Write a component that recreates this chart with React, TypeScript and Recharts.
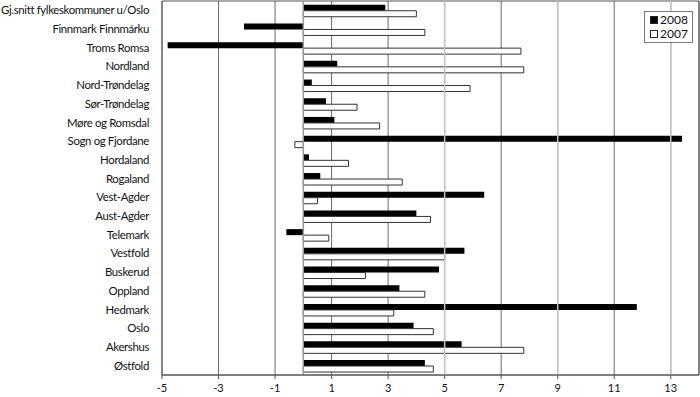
import { BarChart, Bar, XAxis, YAxis, CartesianGrid, ReferenceLine, ReferenceArea } from 'recharts'

const categories = [
  'Gj.snitt fylkeskommuner u/Oslo',
  'Finnmark Finnmárku',
  'Troms Romsa',
  'Nordland',
  'Nord-Trøndelag',
  'Sør-Trøndelag',
  'Møre og Romsdal',
  'Sogn og Fjordane',
  'Hordaland',
  'Rogaland',
  'Vest-Agder',
  'Aust-Agder',
  'Telemark',
  'Vestfold',
  'Buskerud',
  'Oppland',
  'Hedmark',
  'Oslo',
  'Akershus',
  'Østfold',
]

const values2008 = [2.9, -2.1, -4.8, 1.2, 0.3, 0.8, 1.1, 13.4, 0.2, 0.6, 6.4, 4.0, -0.6, 5.7, 4.8, 3.4, 11.8, 3.9, 5.6, 4.3]
const values2007 = [4.0, 4.3, 7.7, 7.8, 5.9, 1.9, 2.7, -0.3, 1.6, 3.5, 0.5, 4.5, 0.9, 5.0, 2.2, 4.3, 3.2, 4.6, 7.8, 4.6]

const xTicks = [-5, -3, -1, 1, 3, 5, 7, 9, 11, 13]
const lightGrid = [5, 9, 13]

const data = categories.map((name, i) => ({ name, y2008: values2008[i], y2007: values2007[i] }))

const font = 'Lato, "Noto Sans", sans-serif'

function CategoryTick(props: any) {
  const { x, y, payload } = props
  return (
    <text
      x={x - 5}
      y={y}
      dy={4}
      textAnchor="end"
      fontSize={11.4}
      letterSpacing={-0.35}
      fill="#111"
      fontFamily={font}
    >
      {payload.value}
    </text>
  )
}

function ValueTick(props: any) {
  const { x, y, payload } = props
  return (
    <text x={x} y={y} dy={11} textAnchor="middle" fontSize={11} fill="#111" fontFamily={font}>
      {payload.value}
    </text>
  )
}

function LegendBox() {
  const item = (fill: string, label: string) => (
    <div style={{ display: 'flex', alignItems: 'center', height: 14 }}>
      <span
        style={{
          display: 'inline-block',
          width: 6,
          height: 6,
          background: fill,
          border: '1px solid #222',
          marginRight: 2,
        }}
      />
      <span>{label}</span>
    </div>
  )
  return (
    <div
      style={{
        position: 'absolute',
        left: 644,
        top: 11,
        border: '1px solid #777',
        background: '#fff',
        padding: '1px 4px 1px 5px',
        fontSize: 12,
        fontFamily: font,
        color: '#111',
        lineHeight: '14px',
      }}
    >
      {item('#000', '2008')}
      {item('#fff', '2007')}
    </div>
  )
}

export default function App() {
  return (
    <div style={{ position: 'absolute', left: 0, top: 0, width: 700, height: 397, background: '#fff' }}>
      <BarChart
        width={700}
        height={397}
        data={data}
        layout="vertical"
        margin={{ top: 1, right: 1, left: 0, bottom: 0 }}
        barCategoryGap="20%"
        barGap={0}
      >
        <CartesianGrid horizontal={false} stroke="#6a6a6a" />
        {lightGrid.map((v) => (
          <ReferenceLine key={v} x={v} stroke="#c4c4c4" strokeWidth={1.5} />
        ))}
        <XAxis
          type="number"
          domain={[-5, 14]}
          ticks={xTicks}
          interval={0}
          allowDataOverflow
          height={22}
          tick={<ValueTick />}
          tickSize={4}
          tickLine={{ stroke: '#555' }}
          axisLine={{ stroke: '#555' }}
        />
        <YAxis
          type="category"
          dataKey="name"
          width={162}
          interval={0}
          tick={<CategoryTick />}
          tickLine={false}
          axisLine={false}
        />
        <ReferenceLine x={0} stroke="#999" strokeWidth={1.5} />
        <ReferenceArea x1={-5} x2={14} fill="none" stroke="#555" strokeWidth={1} />
        <Bar dataKey="y2008" name="2008" fill="#000" isAnimationActive={false} />
        <Bar dataKey="y2007" name="2007" fill="#fff" stroke="#333" strokeWidth={1} isAnimationActive={false} />
      </BarChart>
      <LegendBox />
    </div>
  )
}
